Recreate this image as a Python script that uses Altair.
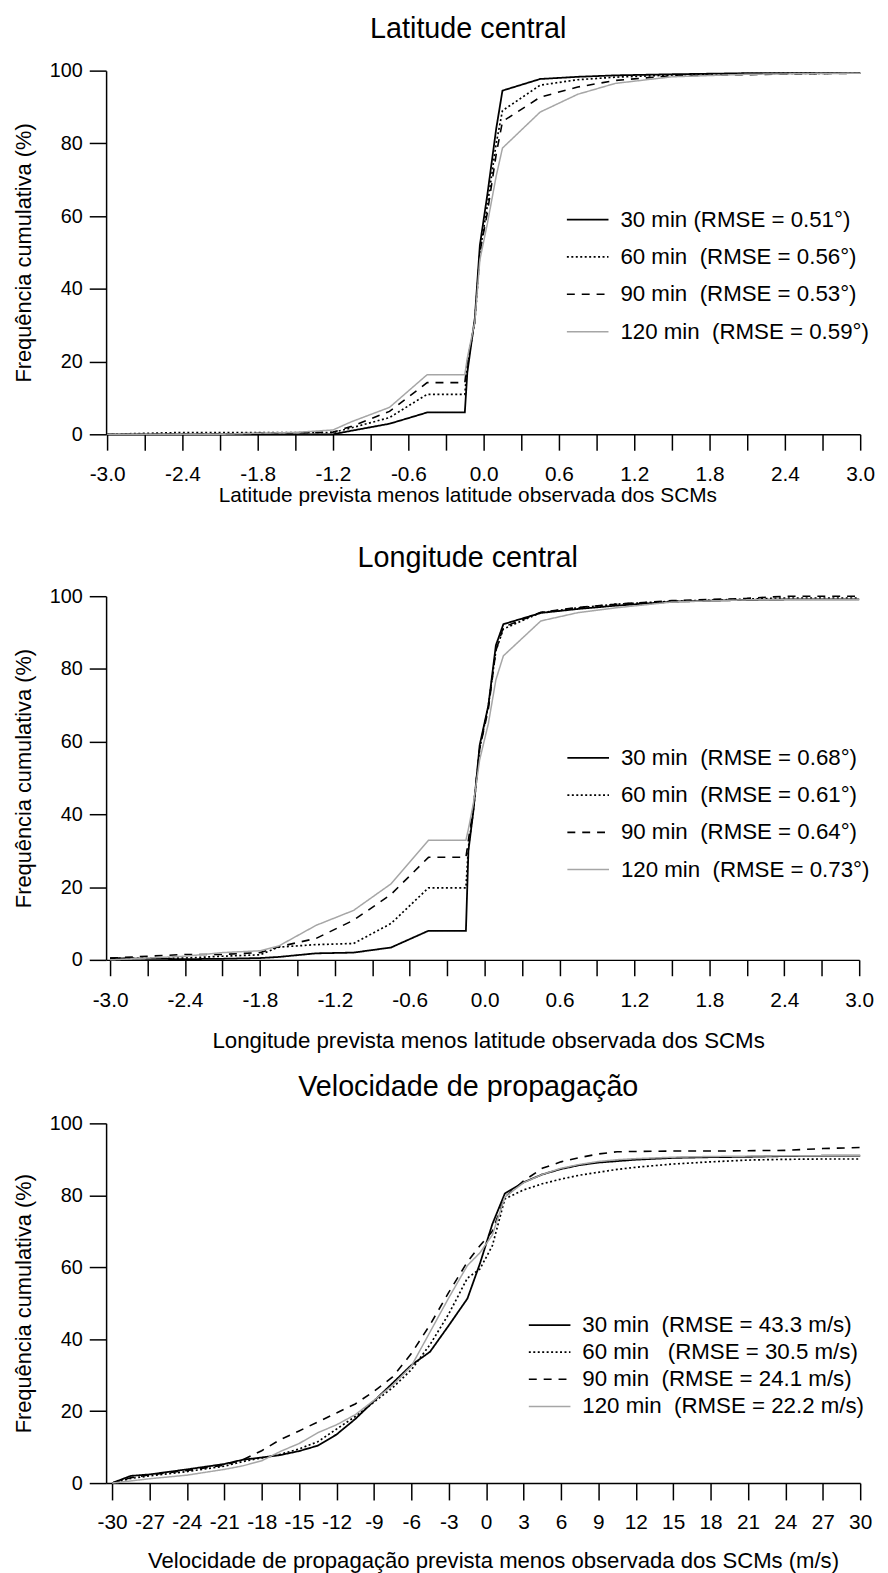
import altair as alt
import pandas as pd

FONT = "Liberation Sans"
SERIES = ["30 min", "60 min", "90 min", "120 min"]
COLORS = ["#000000", "#000000", "#000000", "#a6a6a6"]
DASHES = [[1, 0], [2, 2.5], [8, 7], [1, 0]]
WIDTHS = [1.8, 1.5, 1.5, 1.3]

# ---------- Panel 1: Latitude central ----------
LAT_TITLE = "Latitude central"
LAT_XTITLE = "Latitude prevista menos latitude observada dos SCMs"
LAT_LABELS = ["30 min (RMSE = 0.51°)", "60 min\u00a0 (RMSE = 0.56°)",
              "90 min\u00a0 (RMSE = 0.53°)", "120 min\u00a0 (RMSE = 0.59°)"]
LAT_X = [-3.0, -2.4, -2.1, -1.8, -1.5, -1.2, -1.05, -0.75, -0.45, -0.15, -0.13,
         -0.07, -0.03, 0.03, 0.1, 0.15, 0.45, 0.75, 1.05, 1.5, 2.1, 3.0]
LAT_30 = [0.0, 0.0, 0.0, 0.0, 0.0, 0.0, 1.0, 2.9, 6.0, 6.0, 17.0,
          32.0, 52.0, 66.0, 84.0, 94.5, 97.7, 98.3, 98.7, 99.0, 99.3, 99.3]
LAT_60 = [0.0, 0.5, 0.5, 0.5, 0.5, 0.5, 1.8, 4.6, 11.0, 11.0, 19.0,
          31.0, 50.0, 63.0, 80.0, 89.0, 96.0, 97.5, 98.2, 98.8, 99.2, 99.3]
LAT_90 = [0.0, 0.0, 0.0, 0.3, 0.4, 0.6, 2.2, 6.3, 14.2, 14.2, 20.0,
          31.0, 50.0, 61.0, 77.0, 86.0, 92.7, 95.5, 97.3, 98.6, 98.9, 99.3]
LAT_120 = [0.0, 0.0, 0.0, 0.3, 0.5, 1.2, 3.5, 7.4, 16.4, 16.4, 21.0,
           31.0, 48.0, 58.0, 71.0, 78.7, 88.6, 93.5, 96.5, 98.3, 99.0, 99.3]
LAT_TICKS = [-3.0, -2.7, -2.4, -2.1, -1.8, -1.5, -1.2, -0.9, -0.6, -0.3, 0.0,
             0.3, 0.6, 0.9, 1.2, 1.5, 1.8, 2.1, 2.4, 2.7, 3.0]

# ---------- Panel 2: Longitude central ----------
LON_TITLE = "Longitude central"
LON_XTITLE = "Longitude prevista menos latitude observada dos SCMs"
LON_LABELS = ["30 min\u00a0 (RMSE = 0.68°)", "60 min\u00a0 (RMSE = 0.61°)",
              "90 min\u00a0 (RMSE = 0.64°)", "120 min\u00a0 (RMSE = 0.73°)"]
LON_X = [-3.0, -2.7, -2.4, -2.1, -1.8, -1.65, -1.35, -1.05, -0.75, -0.45, -0.15,
         -0.13, -0.09, -0.04, 0.03, 0.09, 0.15, 0.45, 0.75, 1.05, 1.5, 2.1, 2.4, 3.0]
LON_30 = [0.5, 0.3, 0.2, 0.3, 0.5, 0.8, 1.8, 2.0, 3.4, 8.0, 8.0,
          30.0, 41.0, 59.0, 70.0, 86.5, 92.3, 95.4, 96.5, 97.4, 98.5, 99.0, 99.1, 99.1]
LON_60 = [0.3, 0.5, 0.5, 1.0, 1.4, 3.5, 4.2, 4.5, 10.0, 19.8, 19.8,
          31.0, 41.0, 58.0, 70.0, 85.0, 91.0, 95.5, 96.8, 97.8, 98.6, 99.2, 99.5, 99.5]
LON_90 = [0.5, 1.0, 1.5, 1.5, 2.0, 3.6, 5.9, 10.9, 18.0, 28.2, 28.2,
          33.0, 42.0, 58.0, 69.0, 85.0, 91.5, 95.6, 96.9, 97.8, 98.8, 99.4, 100.0, 100.0]
LON_120 = [0.0, 0.5, 1.0, 2.0, 2.5, 3.8, 9.5, 13.6, 20.9, 32.9, 32.9,
           36.0, 43.0, 55.0, 65.0, 77.0, 83.6, 93.2, 95.5, 96.8, 98.4, 99.0, 99.1, 99.1]
LON_TICKS = LAT_TICKS

# ---------- Panel 3: Velocidade de propagação ----------
VEL_TITLE = "Velocidade de propagação"
VEL_XTITLE = "Velocidade de propagação prevista menos observada dos SCMs (m/s)"
VEL_LABELS = ["30 min\u00a0 (RMSE = 43.3 m/s)", "60 min\u00a0\u00a0 (RMSE = 30.5 m/s)",
              "90 min\u00a0 (RMSE = 24.1 m/s)", "120 min\u00a0 (RMSE = 22.2 m/s)"]
VEL_X = [-30, -28.5, -27, -24, -21, -19.5, -18, -16.5, -15, -13.5, -12, -10.5, -9,
         -7.5, -6, -4.5, -3, -1.5, -0.5, 0.5, 1.5, 3, 4.5, 6, 7.5, 9, 10.5, 12,
         15, 18, 21, 24, 27, 30]
VEL_30 = [0.0, 2.0, 2.4, 3.8, 5.3, 6.5, 7.1, 7.8, 8.9, 10.4, 13.5, 17.8, 22.8,
          27.8, 32.8, 36.5, 43.8, 51.3, 61.0, 72.0, 80.5, 83.6, 85.8, 87.3, 88.4,
          89.1, 89.5, 89.9, 90.4, 90.6, 90.7, 90.9, 91.0, 91.0]
VEL_60 = [0.0, 1.3, 2.0, 3.2, 4.7, 6.0, 7.0, 8.0, 9.5, 11.5, 15.0, 18.5, 22.5,
          26.5, 31.5, 38.5, 47.0, 57.0, 59.5, 66.0, 79.0, 81.5, 83.2, 84.5, 85.6,
          86.4, 87.2, 87.8, 88.7, 89.3, 89.8, 90.0, 90.1, 90.1]
VEL_90 = [0.0, 1.5, 2.3, 3.5, 5.0, 6.5, 9.0, 12.1, 14.5, 17.0, 19.5, 22.0, 25.5,
          29.5, 36.0, 44.0, 53.0, 61.5, 66.0, 70.0, 79.5, 84.0, 87.5, 89.3, 90.5,
          91.5, 92.1, 92.2, 92.3, 92.3, 92.4, 92.5, 93.0, 93.3]
VEL_120 = [0.0, 0.6, 1.2, 2.2, 3.8, 4.8, 6.2, 8.8, 11.0, 14.0, 16.2, 19.0, 23.0,
           27.2, 32.5, 42.0, 51.5, 60.5, 64.0, 69.0, 79.5, 83.5, 85.8, 87.5, 88.6,
           89.4, 89.9, 90.2, 90.6, 90.8, 90.9, 91.0, 91.0, 91.0]
VEL_TICKS = [-30, -27, -24, -21, -18, -15, -12, -9, -6, -3, 0, 3, 6, 9, 12, 15,
             18, 21, 24, 27, 30]

Y_TICKS = [0, 20, 40, 60, 80, 100]
Y_TITLE = "Frequência cumulativa (%)"


def make_df(xs, series_vals, labels):
    rows = []
    for lab, vals in zip(labels, series_vals):
        for xv, yv in zip(xs, vals):
            rows.append({"x": xv, "y": yv, "series": lab})
    return pd.DataFrame(rows)


def panel(df, labels, title, xtitle, xdomain, ticks, label_expr, width, height,
          legend_x, legend_y, row_pad, x_tick, x_lpad, x_tpad, xtitle_size,
          title_offset, xtitle_x):
    legend = alt.Legend(
        title=None, orient="none", legendX=legend_x, legendY=legend_y,
        symbolType="stroke", symbolSize=1764, symbolStrokeWidth=1.5,
        labelFont=FONT, labelFontSize=22.5, labelColor="black", labelLimit=500,
        clipHeight=23, rowPadding=row_pad, labelOffset=11, padding=0,
        direction="vertical",
    )
    return alt.Chart(df).mark_line(interpolate="linear").encode(
        x=alt.X("x:Q", scale=alt.Scale(domain=xdomain, nice=False, zero=False),
                axis=alt.Axis(values=ticks, labelExpr=label_expr, title=xtitle,
                              tickSize=x_tick, labelPadding=x_lpad,
                              titlePadding=x_tpad, titleFontSize=xtitle_size,
                              titleX=xtitle_x, labelFontSize=21,
                              labelFlush=False, labelOverlap=False)),
        y=alt.Y("y:Q", scale=alt.Scale(domain=[0, 100], nice=False),
                axis=alt.Axis(values=Y_TICKS, title=Y_TITLE, tickSize=17,
                              labelPadding=7, titlePadding=14, labelFontSize=20,
                              titleFontSize=22)),
        color=alt.Color("series:N", scale=alt.Scale(domain=labels, range=COLORS),
                        legend=legend),
        strokeDash=alt.StrokeDash("series:N",
                                  scale=alt.Scale(domain=labels, range=DASHES),
                                  legend=legend),
        strokeWidth=alt.StrokeWidth("series:N",
                                    scale=alt.Scale(domain=labels, range=WIDTHS),
                                    legend=None),
        order=alt.Order("x:Q"),
    ).properties(
        width=width, height=height,
        title=alt.TitleParams(title, fontSize=29, font=FONT, fontWeight="normal",
                              color="black", anchor="middle", frame="group",
                              dx=-15, offset=title_offset, baseline="alphabetic"),
    )


DEC_EXPR = ("abs(round(datum.value*10)) % 6 == 0 ? "
            "((datum.value < -0.001 ? '-' : '') + format(abs(datum.value), '.1f')) : ''")
INT_EXPR = "(datum.value < 0 ? '-' : '') + format(abs(datum.value), 'd')"

p1 = panel(make_df(LAT_X, [LAT_30, LAT_60, LAT_90, LAT_120], LAT_LABELS), LAT_LABELS,
           LAT_TITLE, LAT_XTITLE, [-3.008, 3.0], LAT_TICKS, DEC_EXPR, 761, 367,
           464, 138.8, 14.7, 16, 14, 0, 21, -6, 364.5)
p2 = panel(make_df(LON_X, [LON_30, LON_60, LON_90, LON_120], LON_LABELS), LON_LABELS,
           LON_TITLE, LON_XTITLE, [-3.032, 3.0], LON_TICKS, DEC_EXPR, 760, 367,
           464.5, 151.6, 14.6, 16, 14, 19, 22.5, -10, 385.5)
p3 = panel(make_df(VEL_X, [VEL_30, VEL_60, VEL_90, VEL_120], VEL_LABELS), VEL_LABELS,
           VEL_TITLE, VEL_XTITLE, [-30.48, 30.0], VEL_TICKS, INT_EXPR, 761, 363,
           425.6, 192, 4.4, 17, 12, 17, 22.3, -11, 390.5)

RES = dict(x="independent", y="independent", color="independent",
           strokeDash="independent", strokeWidth="independent")

top = alt.vconcat(p1, p2, spacing=39.4).resolve_scale(**RES)
chart = alt.vconcat(top, p3, spacing=21.4).resolve_scale(**RES).properties(
    padding={"left": 4, "top": 0, "right": 5, "bottom": 0},
).configure_view(stroke=None).configure_axis(
    labelFont=FONT, titleFont=FONT, labelColor="black", titleColor="black",
    titleFontWeight="normal", domainColor="black", tickColor="black",
    domainWidth=1.5, tickWidth=1.5, grid=False,
).configure_legend(labelFont=FONT)

chart.save("out.html", embed_options={"renderer": "svg", "actions": False})
